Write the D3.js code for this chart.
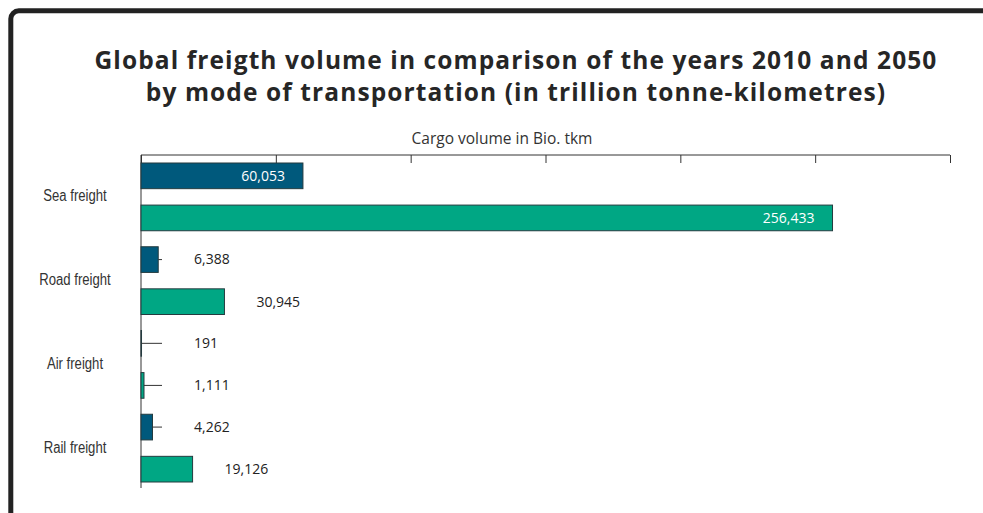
<!DOCTYPE html>
<html>
<head>
<meta charset="utf-8">
<script src="https://cdn.jsdelivr.net/npm/d3@7"></script>
<style>
  html, body { margin: 0; padding: 0; background: #fff; overflow: hidden; }
  svg { display: block; }
</style>
</head>
<body>
<svg id="chart" width="983" height="513"></svg>
<script>
const categories = ["Sea freight", "Road freight", "Air freight", "Rail freight"];
const years = ["2010", "2050"];
const values2010 = [60053, 6388, 191, 4262];
const values2050 = [256433, 30945, 1111, 19126];
const xTicks = [0, 50000, 100000, 150000, 200000, 250000, 300000];
const titleLines = [
  "Global freigth volume in comparison of the years 2010 and 2050",
  "by mode of transportation (in trillion tonne-kilometres)"
];
const axisTitle = "Cargo volume in Bio. tkm";
const colors = { "2010": "#00597c", "2050": "#00a784" };

const svg = d3.select("#chart");

// frame
svg.append("rect")
  .attr("x", 10.8).attr("y", 10.8)
  .attr("width", 1100).attr("height", 700)
  .attr("rx", 8)
  .attr("fill", "#fff")
  .attr("stroke", "#222")
  .attr("stroke-width", 5);

svg.append("g").selectAll("text")
  .data(titleLines)
  .join("text")
  .attr("x", 516)
  .attr("y", (d, i) => 69 + i * 32)
  .attr("text-anchor", "middle")
  .attr("font-family", "Open Sans, sans-serif")
  .attr("font-weight", 700)
  .attr("font-size", 24.5)
  .attr("letter-spacing", 1.1)
  .attr("fill", "#262626")
  .text(d => d);

const m = { left: 141, right: 950, top: 155, bottom: 490 };

const x = d3.scaleLinear().domain([0, 300000]).range([m.left, m.right]);
const y = d3.scaleBand().domain(categories).range([m.top, m.bottom]);
const ySub = d3.scaleBand().domain(years).range([0, y.bandwidth()])
  .paddingInner(0.39).paddingOuter(0.19);

const rows = [];
categories.forEach((c, i) => {
  rows.push({ cat: c, year: "2010", value: values2010[i] });
  rows.push({ cat: c, year: "2050", value: values2050[i] });
});

// top axis
const axis = d3.axisTop(x).tickValues(xTicks).tickSize(-8).tickFormat("");
const ag = svg.append("g").attr("transform", `translate(0,${m.top})`).call(axis);
ag.select(".domain").attr("stroke", "#333").attr("d", `M${m.left},0H${m.right}`);
ag.selectAll(".tick line").attr("stroke", "#333");

svg.append("text")
  .attr("x", 502).attr("y", 144)
  .attr("text-anchor", "middle")
  .attr("font-family", "Open Sans, sans-serif")
  .attr("font-size", 15.5)
  .attr("fill", "#333")
  .text(axisTitle);

// category axis
svg.append("line")
  .attr("x1", m.left).attr("x2", m.left)
  .attr("y1", m.top).attr("y2", m.bottom - 2)
  .attr("stroke", "#333");

svg.append("g").selectAll("text")
  .data(categories)
  .join("text")
  .attr("transform", d => `translate(75,${y(d) + y.bandwidth() / 2 - 1}) scale(0.82,1)`)
  .attr("dy", "0.35em")
  .attr("text-anchor", "middle")
  .attr("font-family", "Liberation Sans, Arial, sans-serif")
  .attr("font-size", 16)
  .attr("fill", "#333")
  .text(d => d);

// bars
svg.append("g").selectAll("rect")
  .data(rows)
  .join("rect")
  .attr("x", m.left)
  .attr("y", d => y(d.cat) + ySub(d.year))
  .attr("width", d => x(d.value) - m.left)
  .attr("height", ySub.bandwidth())
  .attr("fill", d => colors[d.year])
  .attr("stroke", "#243b3f")
  .attr("stroke-width", 1);

const fmt = d3.format(",");
const leaderEnd = 162;
const inside = d => x(d.value) - m.left > 120;
const midY = d => y(d.cat) + ySub(d.year) + ySub.bandwidth() / 2;

// leader lines
svg.append("g").selectAll("line")
  .data(rows.filter(d => !inside(d) && x(d.value) < leaderEnd))
  .join("line")
  .attr("x1", d => x(d.value))
  .attr("x2", leaderEnd)
  .attr("y1", midY)
  .attr("y2", midY)
  .attr("stroke", "#333");

// value labels
svg.append("g").selectAll("text")
  .data(rows)
  .join("text")
  .attr("x", d => inside(d) ? x(d.value) - 18 : Math.max(x(d.value), leaderEnd) + 32)
  .attr("y", midY)
  .attr("dy", "0.35em")
  .attr("text-anchor", d => inside(d) ? "end" : "start")
  .attr("font-family", "Open Sans, sans-serif")
  .attr("font-size", 14)
  .attr("fill", d => inside(d) ? "#fff" : "#222")
  .text(d => fmt(d.value));
</script>
</body>
</html>
